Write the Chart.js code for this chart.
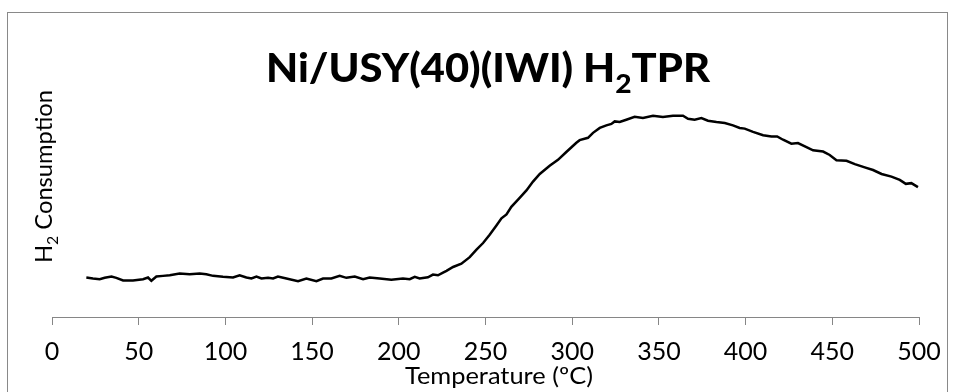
<!DOCTYPE html>
<html>
<head>
<meta charset="utf-8">
<script src="https://cdn.jsdelivr.net/npm/chart.js@4"></script>
<style>
  html, body { margin: 0; padding: 0; background: #fff; }
  canvas { display: block; }
</style>
</head>
<body>
<canvas id="tprChart" width="955" height="392"></canvas>
<script>
// ====== data ======
const temps = [19.8, 23.6, 27.5, 30.4, 34.3, 37.1, 41, 46.7, 52.5, 55.4, 57.3, 60.2, 64, 67.9,
  73.6, 79.4, 85.2, 89, 92.9, 98.6, 104.4, 108.2, 112.1, 115, 117.9, 120.8, 124.6, 127.5, 130.3,
  135.2, 141.9, 146.7, 152.5, 156.3, 161.1, 165.9, 169.8, 174.6, 179.4, 183.2, 189, 195.7, 202.4,
  206.3, 209.2, 212, 216.8, 219.7, 222.6, 225.5, 227.5, 231.3, 236.1, 240.9, 244.8, 248.6, 252.4,
  256.3, 259.2, 262.1, 264.9, 269.7, 273.6, 277.4, 281.3, 287, 291.8, 296.6, 302.4, 304.3, 309.1,
  312, 315.9, 319.7, 322.6, 324.5, 327.4, 331.2, 336, 340.8, 346.6, 352.3, 358.1, 363.9, 366.8,
  370.6, 374.5, 378.3, 383.2, 388, 392.7, 396.6, 399.5, 404.3, 410.1, 414.9, 418.2, 421.6, 426.4,
  430.2, 435.1, 438.9, 444.7, 448.5, 452.4, 458.2, 463, 468.7, 473.5, 478.4, 484.1, 488.9, 492.4,
  495.6, 499.4];
const h2Signal = [40, 39, 38.3, 39.7, 41, 39.7, 37, 37, 38.3, 40, 36.7, 41, 41.7, 42.3,
  44, 43.3, 44, 43.3, 41.7, 40.7, 40, 42.3, 40, 39, 41, 39, 39.7, 39, 41,
  39, 36.3, 39, 36.3, 39, 39, 41.7, 39.7, 41, 38.3, 40, 39, 37.7, 39,
  38.3, 40.7, 39, 40.3, 43, 42.3, 45, 46.7, 50.7, 54, 60.7, 68.3, 75, 83.3,
  92.7, 100, 104, 111.7, 120.7, 128.3, 137.3, 145, 153.3, 159.3, 167.3, 176.7, 179.3, 181.7,
  186.7, 191.7, 194.3, 195.7, 198.3, 197.7, 200, 203, 201.7, 204, 202.7, 204, 204, 201,
  200, 201.7, 199, 197.7, 196.7, 194.3, 191.7, 191, 187.7, 184.3, 183, 183, 179.7, 175.7,
  176.3, 172.3, 169, 167.7, 164.3, 159, 158.3, 155, 151.7, 149, 145, 142.3, 139, 135,
  135.7, 131.7];
const xTicks = [0, 50, 100, 150, 200, 250, 300, 350, 400, 450, 500];

const titleParts = [{ t: 'Ni/USY(40)(IWI) H' }, { t: '2', sub: true }, { t: 'TPR' }];
const yTitleParts = [{ t: 'H' }, { t: '2', sub: true }, { t: ' Consumption' }];
const xTitle = 'Temperature (ºC)';

const FONT = 'Lato, "Open Sans", sans-serif';

// draws text pieces with lowered subscripts, squeezed to a target width
function drawParts(ctx, parts, size, weight, width) {
  const subSize = Math.round(size * 0.68);
  let total = 0;
  const widths = parts.map(p => {
    ctx.font = weight + ' ' + (p.sub ? subSize : size) + 'px ' + FONT;
    const w = ctx.measureText(p.t).width;
    total += w;
    return w;
  });
  const sx = width / total;
  ctx.save();
  ctx.scale(sx, 1);
  let x = 0;
  parts.forEach((p, i) => {
    ctx.font = weight + ' ' + (p.sub ? subSize : size) + 'px ' + FONT;
    ctx.fillText(p.t, x, p.sub ? size * 0.27 : 0);
    x += widths[i];
  });
  ctx.restore();
}

const textLayer = {
  id: 'textLayer',
  beforeDraw(chart) {
    const ctx = chart.ctx;
    ctx.save();
    ctx.fillStyle = '#fff';
    ctx.fillRect(0, 0, chart.width, chart.height);
    ctx.strokeStyle = '#898989';
    ctx.lineWidth = 1;
    ctx.strokeRect(7.5, 12.5, 940, 400);
    ctx.restore();
  },
  afterDraw(chart) {
    const ctx = chart.ctx;
    ctx.save();
    ctx.fillStyle = '#000';
    ctx.textBaseline = 'alphabetic';
    ctx.textAlign = 'left';

    // chart title
    ctx.save();
    ctx.translate(266, 82);
    drawParts(ctx, titleParts, 40, '900', 444);
    ctx.restore();

    // y axis title
    ctx.save();
    ctx.translate(52, 263);
    ctx.rotate(-Math.PI / 2);
    drawParts(ctx, yTitleParts, 24, 'normal', 173);
    ctx.restore();

    // x axis title
    ctx.save();
    ctx.translate(405, 384);
    drawParts(ctx, [{ t: xTitle }], 24, 'normal', 188);
    ctx.restore();

    ctx.restore();
  }
};

const ctx = document.getElementById('tprChart').getContext('2d');
new Chart(ctx, {
  type: 'scatter',
  data: {
    datasets: [{
      label: 'H2 TPR',
      data: temps.map((t, i) => ({ x: t, y: h2Signal[i] })),
      showLine: true,
      borderColor: '#000',
      borderWidth: 2.5,
      pointRadius: 0,
      tension: 0
    }]
  },
  options: {
    responsive: false,
    animation: false,
    layout: { padding: { left: 52, right: 36, top: 100, bottom: 13 } },
    plugins: {
      legend: { display: false },
      title: { display: false },
      tooltip: { enabled: false }
    },
    scales: {
      x: {
        type: 'linear',
        min: 0,
        max: 500,
        afterBuildTicks: scale => { scale.ticks = xTicks.map(v => ({ value: v })); },
        border: { display: true, color: '#868686', width: 1 },
        grid: { drawOnChartArea: false, drawTicks: true, tickLength: 8, color: '#868686' },
        ticks: { color: '#000', padding: 12, maxRotation: 0, font: { family: FONT, size: 25 } }
      },
      y: { display: false, min: 0, max: 220 }
    }
  },
  plugins: [textLayer]
});
</script>
</body>
</html>
